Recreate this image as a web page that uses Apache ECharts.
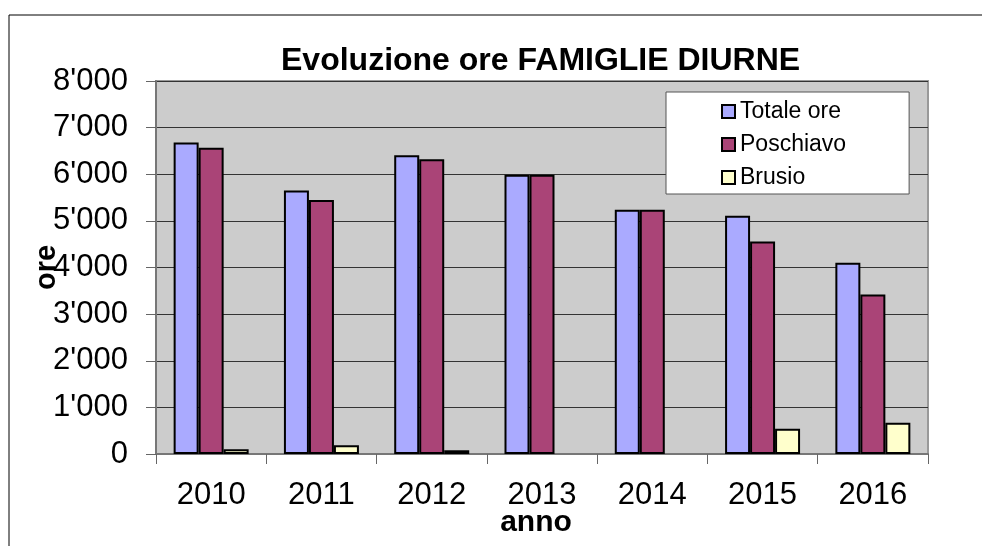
<!DOCTYPE html>
<html>
<head>
<meta charset="utf-8">
<script src="https://cdn.jsdelivr.net/npm/echarts@6/dist/echarts.min.js"></script>
<style>
html,body{margin:0;padding:0;background:#fff;overflow:hidden;}
#c{width:982px;height:546px;}
</style>
</head>
<body>
<div id="c"></div>
<script>
const categories = ['2010','2011','2012','2013','2014','2015','2016'];
const totaleOre = [6680, 5650, 6410, 5990, 5240, 5110, 4100];
const poschiavo = [6570, 5450, 6320, 5990, 5240, 4560, 3420];
const brusio = [100, 190, 80, 0, 0, 540, 670];
const yTicks = [0, 1000, 2000, 3000, 4000, 5000, 6000, 7000, 8000];

const fmt = v => String(v).replace(/\B(?=(\d{3})+(?!\d))/g, "'");
const FONT = 'Liberation Sans, Arial, sans-serif';
const noZero = arr => arr.map(v => (v === 0 ? null : v));

const chart = echarts.init(document.getElementById('c'), null, {renderer:'canvas'});
const barStyle = (c) => ({color: c, borderColor: '#000', borderWidth: 2});
chart.setOption({
  animation: false,
  backgroundColor: '#fff',
  textStyle: {fontFamily: FONT},
  title: {
    text: 'Evoluzione ore FAMIGLIE DIURNE',
    left: 276, top: 40,
    textStyle: {fontFamily: FONT, fontSize: 32, fontWeight: 'bold', color: '#000'}
  },
  graphic: [{
    type: 'rect', silent: true, z: -10,
    shape: {x: 9, y: 15, width: 1100, height: 700},
    style: {fill: 'none', stroke: '#000', lineWidth: 1}
  }],
  legend: {
    orient: 'vertical',
    left: 666, top: 92,
    backgroundColor: '#fff',
    borderColor: '#555', borderWidth: 1,
    padding: [8, 63, 5, 55],
    itemWidth: 13, itemHeight: 13, itemGap: 10,
    icon: 'rect',
    textStyle: {fontFamily: FONT, fontSize: 23, color: '#000', lineHeight: 23},
    data: ['Totale ore', 'Poschiavo', 'Brusio']
  },
  grid: {
    left: 156, right: 54, top: 81, bottom: 92,
    containLabel: false,
    outerBoundsMode: 'none',
    show: true, backgroundColor: '#cccccc', borderColor: '#999', borderWidth: 2
  },
  xAxis: {
    type: 'category',
    data: categories,
    name: 'anno', nameLocation: 'middle', nameGap: 54, nameMoveOverlap: false,
    nameTextStyle: {fontFamily: FONT, fontSize: 30, fontWeight: 'bold', color: '#000', padding: [0, 12, 0, 0]},
    axisLine: {show: true, lineStyle: {color: '#777', width: 2}},
    axisTick: {show: true, alignWithLabel: false, length: 10, lineStyle: {color: '#666', width: 1}},
    axisLabel: {fontFamily: FONT, fontSize: 31, color: '#000', margin: 26},
    splitLine: {show: false}
  },
  yAxis: {
    type: 'value',
    min: 0, max: 8000, interval: 1000,
    name: 'ore', nameLocation: 'middle', nameGap: 95, nameRotate: 90, nameMoveOverlap: false,
    nameTextStyle: {fontFamily: FONT, fontSize: 29, fontWeight: 'bold', color: '#000'},
    axisLine: {show: true, lineStyle: {color: '#777', width: 2}},
    axisTick: {show: true, length: 10, lineStyle: {color: '#666', width: 1}},
    axisLabel: {fontFamily: FONT, fontSize: 31, color: '#000', margin: 28,
      formatter: v => yTicks.includes(v) ? fmt(v) : ''},
    splitLine: {show: true, lineStyle: {color: '#333', width: 1}}
  },
  series: [
    {name: 'Totale ore', type: 'bar', data: totaleOre, itemStyle: barStyle('#aaaaff'),
     barGap: '0%', barCategoryGap: '32%'},
    {name: 'Poschiavo', type: 'bar', data: poschiavo, itemStyle: barStyle('#aa4477')},
    {name: 'Brusio', type: 'bar', data: noZero(brusio), itemStyle: barStyle('#ffffcc')}
  ]
});
</script>
</body>
</html>
